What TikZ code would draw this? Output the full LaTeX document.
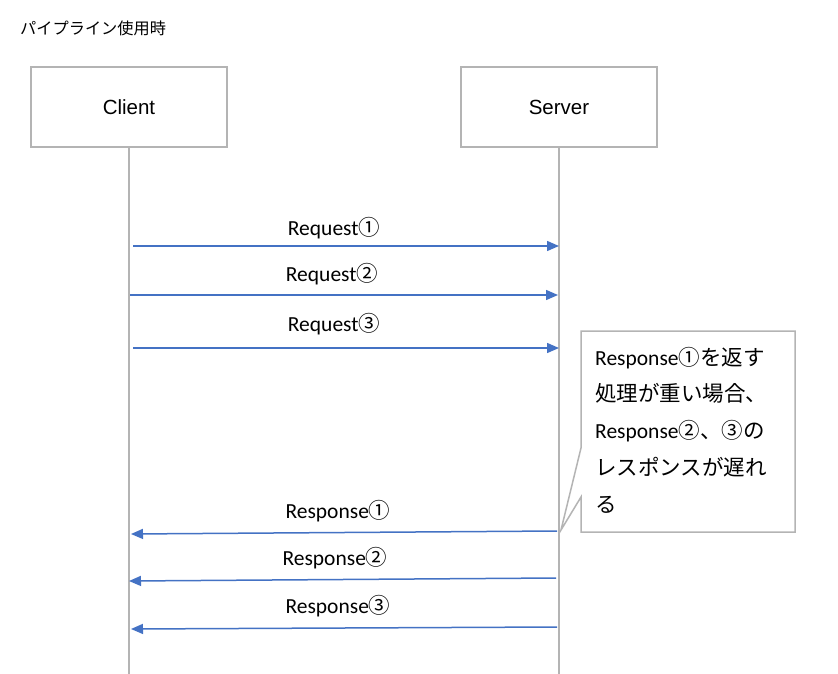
\documentclass[tikz,border=0pt]{standalone}
\usepackage{fontspec}
\setmainfont{Carlito}
\newfontfamily\cjk{Noto Sans CJK JP}
\newfontfamily\helv{Liberation Sans}
\usetikzlibrary{arrows.meta}
\definecolor{msgblue}{HTML}{4472C4}
\definecolor{boxgray}{HTML}{B4B4B4}
\tikzset{
  x=1pt,y=-1pt,
  actor/.style={draw=boxgray,line width=2pt,minimum width=196pt,minimum height=80pt,inner sep=0pt,font=\helv\fontsize{20.5}{22}\selectfont},
  life/.style={draw=boxgray,line width=1.5pt},
  msg/.style={draw=msgblue,line width=1.5pt,-{Triangle[length=12pt,width=10pt]}},
  lbl/.style={font=\fontsize{21.5}{24}\selectfont,inner sep=0pt},
}
\newcommand{\cn}[1]{{\cjk #1}}
\begin{document}
\begin{tikzpicture}
\useasboundingbox (0,0) rectangle (838,674);
\fill[white] (0,0) rectangle (838,674);
\node[anchor=west,inner sep=0pt,font=\cjk\fontsize{16.2}{18}\selectfont] (title) at (20,28) {パイプライン使用時};
\node[actor] (client) at (129,107) {Client};
\node[actor] (server) at (559,107) {Server};
\coordinate (cend) at (129,674);
\coordinate (send) at (559,674);
\draw[life] (client.south) -- (cend);
\draw[life] (server.south) -- (send);
% requests
\coordinate (q1a) at (133,246); \coordinate (q1b) at (559,246);
\coordinate (q2a) at (130,295); \coordinate (q2b) at (558,295);
\coordinate (q3a) at (133,348); \coordinate (q3b) at (559,348);
\draw[msg] (q1a) -- (q1b);
\draw[msg] (q2a) -- (q2b);
\draw[msg] (q3a) -- (q3b);
\node[lbl] (l1) at (334,228) {Request\cn{①}};
\node[lbl] (l2) at (332,274) {Request\cn{②}};
\node[lbl] (l3) at (334,324) {Request\cn{③}};
% responses
\coordinate (r1a) at (557,531); \coordinate (r1b) at (131,534);
\coordinate (r2a) at (556,578); \coordinate (r2b) at (129,581);
\coordinate (r3a) at (557,627); \coordinate (r3b) at (131,629);
\draw[msg] (r1a) -- (r1b);
\draw[msg] (r2a) -- (r2b);
\draw[msg] (r3a) -- (r3b);
\node[lbl] (m1) at (338,511) {Response\cn{①}};
\node[lbl] (m2) at (335,558) {Response\cn{②}};
\node[lbl] (m3) at (338,606) {Response\cn{③}};
% callout
\coordinate (c1) at (581,331); \coordinate (c2) at (795,331);
\coordinate (c3) at (795,532); \coordinate (c4) at (581,532);
\coordinate (p1) at (581,448); \coordinate (p2) at (561,530); \coordinate (p3) at (581,497);
\fill[white] (c1) -- (c2) -- (c3) -- (c4) -- (p3) -- (p2) -- (p1) -- cycle;
\draw[boxgray,line width=1.5pt] (p1) -- (c1) -- (c2) -- (c3) -- (c4) -- (p3) -- (p2) -- cycle;
\node[anchor=west,inner sep=0pt,align=left,font=\fontsize{21.5}{36.8}\selectfont] (note) at (595,430)
 {Response\cn{①を返す}\\\cn{処理が重い場合、}\\Response\cn{②、③の}\\\cn{レスポンスが遅れ}\\\cn{る}};
\end{tikzpicture}
\end{document}
